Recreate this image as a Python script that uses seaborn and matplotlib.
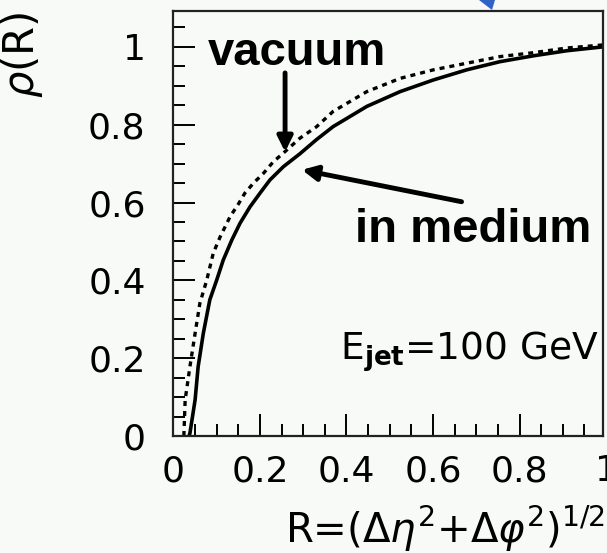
import numpy as np
import pandas as pd
import seaborn as sns
import matplotlib
matplotlib.use("Agg")
import matplotlib.pyplot as plt
import matplotlib.transforms as mtrans
from matplotlib.ticker import MultipleLocator, FixedLocator, FixedFormatter
from matplotlib.patches import ArrowStyle, Polygon

# Jet shape rho(R): medium-modified (solid) vs vacuum (dashed)
r_medium = [0.036, 0.038, 0.050, 0.057, 0.069, 0.084, 0.100, 0.115, 0.135, 0.154,
            0.177, 0.200, 0.223, 0.254, 0.292, 0.331, 0.369, 0.447, 0.524, 0.601,
            0.678, 0.755, 0.832, 0.909, 0.993]
rho_medium = [0.000, 0.007, 0.093, 0.178, 0.264, 0.350, 0.401, 0.452, 0.504, 0.547,
              0.589, 0.624, 0.658, 0.692, 0.725, 0.762, 0.795, 0.847, 0.885, 0.915,
              0.941, 0.962, 0.977, 0.990, 1.000]

r_vacuum = [0.024, 0.027, 0.038, 0.050, 0.061, 0.077, 0.092, 0.108, 0.131, 0.150,
            0.165, 0.185, 0.208, 0.231, 0.254, 0.292, 0.331, 0.369, 0.447, 0.524,
            0.601, 0.678, 0.755, 0.832, 0.909, 0.993]
rho_vacuum = [0.000, 0.093, 0.178, 0.264, 0.341, 0.401, 0.470, 0.512, 0.564, 0.596,
              0.624, 0.650, 0.675, 0.705, 0.727, 0.765, 0.795, 0.834, 0.885, 0.919,
              0.941, 0.958, 0.975, 0.985, 0.997, 1.005]

x_ticks = [0, 0.2, 0.4, 0.6, 0.8, 1]
x_tick_labels = ["0", "0.2", "0.4", "0.6", "0.8", "1"]
y_ticks = [0, 0.2, 0.4, 0.6, 0.8, 1]
y_tick_labels = ["0", "0.2", "0.4", "0.6", "0.8", "1"]

df_medium = pd.DataFrame({"R": r_medium, "rho": rho_medium})
df_vacuum = pd.DataFrame({"R": r_vacuum, "rho": rho_vacuum})

sns.set_style("ticks")
plt.rcParams["font.family"] = ["DejaVu Sans"]
plt.rcParams["mathtext.fontset"] = "dejavusans"
plt.rcParams["text.color"] = "black"
plt.rcParams["axes.labelcolor"] = "black"
plt.rcParams["xtick.color"] = "black"
plt.rcParams["ytick.color"] = "black"

bg = "#f8faf8"
fig = plt.figure(figsize=(6.07, 5.53), dpi=100, facecolor=bg)
ax = fig.add_axes([0.2858, 0.2116, 0.7076, 0.7691], facecolor=bg)

sns.lineplot(data=df_medium, x="R", y="rho", ax=ax, color="black", lw=2.6,
             estimator=None, sort=False)
sns.lineplot(data=df_vacuum, x="R", y="rho", ax=ax, color="black", lw=2.4,
             estimator=None, sort=False, linestyle=(0, (1.5, 1.5)))

ax.set_xlim(0, 0.993)
ax.set_ylim(0, 1.093)

ax.xaxis.set_major_locator(FixedLocator(x_ticks))
ax.xaxis.set_major_formatter(FixedFormatter(x_tick_labels))
ax.yaxis.set_major_locator(FixedLocator(y_ticks))
ax.yaxis.set_major_formatter(FixedFormatter(y_tick_labels))
ax.xaxis.set_minor_locator(MultipleLocator(0.05))
ax.yaxis.set_minor_locator(MultipleLocator(0.05))

ax.tick_params(which="both", direction="in", colors="black", top=False, right=False)
ax.tick_params(which="major", length=16, width=1.4, labelsize=26)
ax.tick_params(axis="y", which="major", pad=20)
ax.tick_params(axis="x", which="major", pad=13)
ax.tick_params(which="minor", length=8.5, width=1.4)
for s in ax.spines.values():
    s.set_linewidth(1.6)
    s.set_color("#222222")

# last x tick label sits just past the right frame edge
ax.text(1.0, 0.0, "1", fontsize=26, ha="center", va="top", clip_on=False,
        transform=ax.get_xaxis_transform()
        + mtrans.ScaledTranslation(0, -13 / 72, fig.dpi_scale_trans))

ax.set_xlabel(r"R=($\Delta\eta^2$+$\Delta\varphi^2$)$^{1/2}$", fontsize=29,
              ha="right", va="baseline")
ax.xaxis.set_label_coords(1.005, -0.252)
ax.set_ylabel(r"$\rho$(R)", fontsize=30, ha="center", va="center", rotation=90)
ax.yaxis.set_label_coords(-0.353, 0.896)

arrow_style = ArrowStyle("-|>", head_length=0.9, head_width=0.45)
bold_kw = dict(fontsize=34, fontweight="bold", color="black",
               family=["Liberation Sans", "DejaVu Sans"])

ax.text(0.080, 0.954, "vacuum", ha="left", va="baseline", **bold_kw)
ax.annotate("", xy=(0.258, 0.730), xytext=(0.258, 0.933),
            arrowprops=dict(arrowstyle=arrow_style, lw=3.5, color="black",
                            mutation_scale=10, shrinkA=0, shrinkB=0))

ax.text(0.4197, 0.4995, "in medium", ha="left", va="baseline", **bold_kw)
ax.annotate("", xy=(0.297, 0.684), xytext=(0.666, 0.602),
            arrowprops=dict(arrowstyle=arrow_style, lw=3.5, color="black",
                            mutation_scale=10, shrinkA=0, shrinkB=0))

ax.text(0.385, 0.195, r"E$_{\mathbf{jet}}$=100 GeV", fontsize=27, ha="left",
        va="baseline", color="black")

# corner of a blue pointer peeking in above the frame
fig.patches.append(Polygon([(479 / 607, 1.0), (495 / 607, 1.0), (492 / 607, 1 - 10 / 553)],
                           closed=True, transform=fig.transFigure,
                           facecolor="#2f63c4", edgecolor="none"))

fig.savefig("out.png", dpi=100, facecolor=bg)
